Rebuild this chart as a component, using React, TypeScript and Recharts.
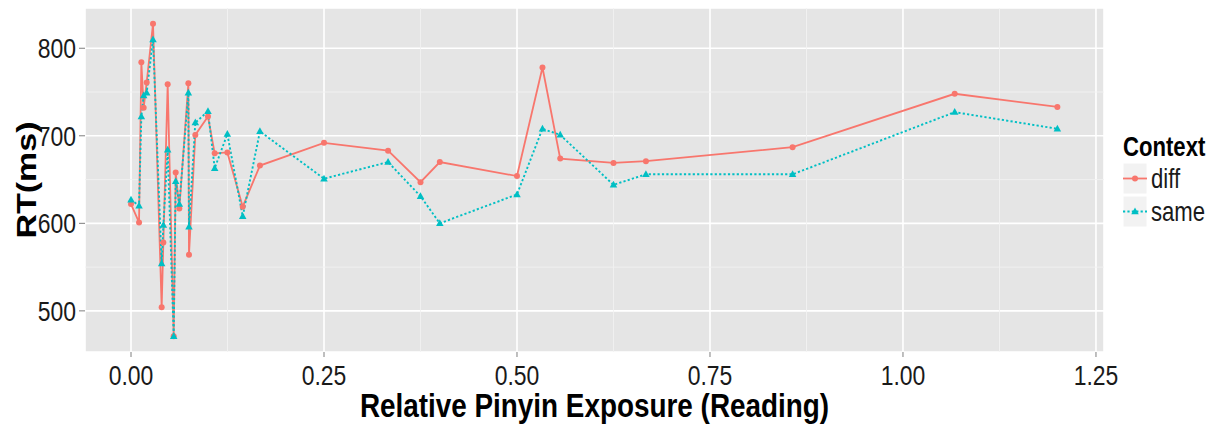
import React from 'react';
import { ComposedChart, Line, XAxis, YAxis, CartesianGrid, ReferenceLine, Legend } from 'recharts';

const exposure = [0, 0.0104, 0.0134, 0.0164, 0.0203, 0.0285, 0.0397, 0.0419, 0.0475, 0.0553, 0.0579, 0.0626, 0.0743, 0.0751, 0.0833, 0.0997, 0.1084, 0.1248, 0.1447, 0.167, 0.25, 0.333, 0.375, 0.4, 0.5, 0.533, 0.556, 0.625, 0.667, 0.857, 1.067, 1.2];
const rtDiff = [622, 601, 784, 732, 761, 828, 504, 578, 759, 471, 658, 617, 760, 564, 701, 722, 680, 681, 619, 666, 692, 683, 647, 670, 654, 778, 674, 669, 671, 687, 748, 733];
const rtSame = [627, 620, 722, 746, 749, 810, 554, 598, 684, 471, 648, 622, 749, 596, 715, 728, 663, 702, 608, 705, 651, 670, 631, 600, 633, 708, 701, 644, 656, 656, 727, 708];
const seriesNames = ['diff', 'same'];
const xTicks = [0, 0.25, 0.5, 0.75, 1, 1.25];
const yTicks = [500, 600, 700, 800];
const xMinor = [0.125, 0.375, 0.625, 0.875, 1.125];
const yMinor = [550, 650, 750];

const data = exposure.map((x, i) => ({ x, diff: rtDiff[i], same: rtSame[i] }));

const RED = '#F8766D';
const TEAL = '#00BFC4';
const SX = 0.82;
const FONT = '"Liberation Sans", Arial, Helvetica, sans-serif';
const TXT = '#1a1a1a';
const DASH = '2.2 2.2';

function XTick(props: any) {
  const { x, y, payload } = props;
  return (
    <text transform={`translate(${x},${y + 26}) scale(${SX},1)`} textAnchor="middle" fontSize={28} fill={TXT} fontFamily={FONT}>
      {Number(payload.value).toFixed(2)}
    </text>
  );
}

function YTick(props: any) {
  const { x, y, payload } = props;
  return (
    <text transform={`translate(${x - 1},${y + 10}) scale(${SX},1)`} textAnchor="end" fontSize={28} fill={TXT} fontFamily={FONT}>
      {payload.value}
    </text>
  );
}

function XLabel(props: any) {
  const vb = props.viewBox || {};
  const cx = vb.x + vb.width / 2;
  return (
    <text transform={`translate(${cx},${vb.y + 65}) scale(${SX},1)`} textAnchor="middle" fontSize={34} fontWeight="bold" fill="#000" fontFamily={FONT}>
      Relative Pinyin Exposure (Reading)
    </text>
  );
}

function YLabel(props: any) {
  const vb = props.viewBox || {};
  const cy = vb.y + vb.height / 2;
  return (
    <text transform={`translate(${36},${cy}) scale(${SX},1) rotate(-90)`} textAnchor="middle" fontSize={34} fontWeight="bold" fill="#000" fontFamily={FONT}>
      RT(ms)
    </text>
  );
}

function triPath(cx: number, cy: number, s: number) {
  const h = s * 0.9;
  return `M${cx},${cy - h * 0.6} L${cx + s / 2},${cy + h * 0.4} L${cx - s / 2},${cy + h * 0.4} Z`;
}

function TriangleDot(props: any) {
  const { cx, cy, index } = props;
  if (cx == null || cy == null) return <g key={`t${index}`} />;
  return <path key={`t${index}`} d={triPath(cx, cy, 7.5)} fill={TEAL} />;
}

function CircleDot(props: any) {
  const { cx, cy, index } = props;
  if (cx == null || cy == null) return <g key={`c${index}`} />;
  return <circle key={`c${index}`} cx={cx} cy={cy} r={3} fill={RED} />;
}

// legend drawn in a box whose left edge is at page x = 1104
function LegendContent() {
  const o = -4;
  return (
    <svg width={110} height={120} style={{ display: 'block', overflow: 'visible' }}>
      <text transform={`translate(${23 + o},36) scale(${SX},1)`} fontSize={27} fontWeight="bold" fill="#000" fontFamily={FONT}>Context</text>
      <rect x={23 + o} y={43} width={24} height={31} fill="#F2F2F2" stroke="#fff" strokeWidth={1} />
      <line x1={23 + o} x2={47 + o} y1={58.5} y2={58.5} stroke={RED} strokeWidth={1.8} />
      <circle cx={35 + o} cy={58.5} r={3} fill={RED} />
      <text transform={`translate(${51 + o},68) scale(${SX},1)`} fontSize={27} fill={TXT} fontFamily={FONT}>{seriesNames[0]}</text>
      <rect x={23 + o} y={76} width={24} height={31} fill="#F2F2F2" stroke="#fff" strokeWidth={1} />
      <line x1={23 + o} x2={47 + o} y1={91.5} y2={91.5} stroke={TEAL} strokeWidth={1.8} strokeDasharray={DASH} />
      <path d={triPath(35 + o, 91.5, 7.5)} fill={TEAL} />
      <text transform={`translate(${51 + o},101) scale(${SX},1)`} fontSize={27} fill={TXT} fontFamily={FONT}>{seriesNames[1]}</text>
    </svg>
  );
}

export default function App() {
  return (
    <div style={{ position: 'absolute', left: 0, top: 0, width: 1214, height: 425, background: '#fff' }}>
      <ComposedChart width={1214} height={425} data={data} margin={{ top: 8, right: 0, bottom: 0, left: 0 }}>
        <CartesianGrid fill="#E5E5E5" stroke="#FFFFFF" strokeWidth={1.6} />
        {xMinor.map((v) => (
          <ReferenceLine key={`xm${v}`} x={v} stroke="#F2F2F2" strokeWidth={0.9} />
        ))}
        {yMinor.map((v) => (
          <ReferenceLine key={`ym${v}`} y={v} stroke="#F2F2F2" strokeWidth={0.9} />
        ))}
        <XAxis
          dataKey="x"
          type="number"
          domain={[-0.0596, 1.2604]}
          ticks={xTicks}
          allowDataOverflow
          height={73}
          axisLine={false}
          tickLine={{ stroke: '#7F7F7F', strokeWidth: 1 }}
          tickSize={5}
          tick={<XTick />}
          interval={0}
          label={<XLabel />}
        />
        <YAxis
          type="number"
          domain={[453, 846]}
          ticks={yTicks}
          allowDataOverflow
          width={85}
          axisLine={false}
          tickLine={{ stroke: '#7F7F7F', strokeWidth: 1 }}
          tickSize={6}
          tick={<YTick />}
          interval={0}
          label={<YLabel />}
        />
        <Line
          dataKey="diff"
          name={seriesNames[0]}
          stroke={RED}
          strokeWidth={1.8}
          dot={CircleDot}
          activeDot={false}
          isAnimationActive={false}
        />
        <Line
          dataKey="same"
          name={seriesNames[1]}
          stroke={TEAL}
          strokeWidth={1.9}
          strokeDasharray={DASH}
          dot={TriangleDot}
          activeDot={false}
          isAnimationActive={false}
        />
        <Legend
          layout="vertical"
          align="right"
          verticalAlign="middle"
          content={LegendContent}
          wrapperStyle={{ position: 'absolute', left: 1104, top: 120, width: 110, height: 120 }}
        />
      </ComposedChart>
    </div>
  );
}
